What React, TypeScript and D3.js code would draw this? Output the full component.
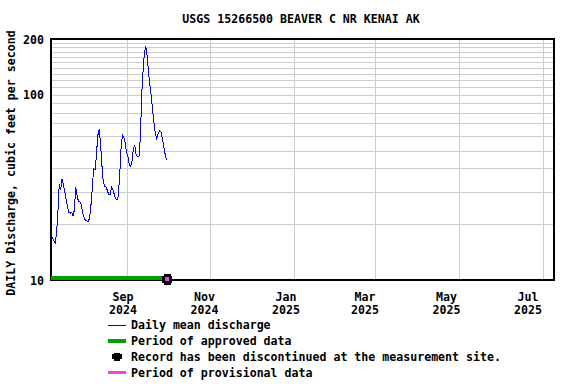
import React from "react";
import * as d3 from "d3";

// daily mean discharge, cfs, Jul 8 2024 .. Sep 30 2024
const startDay = "2024-07-08";
const discharge = [
  17.1, 17, 16.3, 15.8, 17.9, 22.9, 33, 30.5, 35, 33,
  30, 27, 25, 23.2, 22.9, 23.2, 22.2, 23.9, 31.7, 28.5,
  26.5, 26.5, 25.5, 23, 21.8, 21, 20.9, 20.7, 21.5, 24.9,
  30.7, 40, 39.3, 46.3, 60, 65, 55, 42, 34, 32,
  31.8, 30.5, 28.8, 28.8, 31.8, 31, 29, 27.6, 27, 28.5,
  37, 52, 60.9, 59, 55, 48.5, 46, 41.8, 41, 44,
  51.5, 53, 47, 46.3, 46.3, 58.4, 100, 135, 170, 182,
  162, 132, 112, 98, 82, 70, 61, 57.6, 62, 64,
  63, 58.4, 53, 48, 44.5,
];

const approvedPeriod = ["2024-07-08", "2024-09-30"];
const discontinuedOn = "2024-10-01";

const monthTicks = ["2024-09-01", "2024-11-01", "2025-01-01", "2025-03-01", "2025-05-01", "2025-07-01"];
const monthLabels = [["Sep", "2024"], ["Nov", "2024"], ["Jan", "2025"], ["Mar", "2025"], ["May", "2025"], ["Jul", "2025"]];
const yLabels = [10, 100, 200];
const yGrid = [20, 30, 40, 50, 60, 70, 80, 90, 100, 110, 120, 130, 140, 150, 160, 170, 180, 190];

const legendItems = [
  "Daily mean discharge",
  "Period of approved data",
  "Record has been discontinued at the measurement site.",
  "Period of provisional data",
];

const W = 576, H = 384;
const left = 51, right = 554, top = 39, bottom = 280;
const font = "'DejaVu Sans Mono', monospace";

export default function App() {
  const parse = d3.utcParse("%Y-%m-%d");
  const domain = [parse("2024-07-08")!, parse("2025-07-09")!];
  const x = d3.scaleUtc().domain(domain).range([left, right]);
  // tick labels on the original sit a bit left of the grid lines
  const xLab = d3.scaleUtc().domain(domain).range([49.5, 538.7]);
  const y = d3.scaleLog().domain([10, 200]).range([bottom, top]);

  const t0 = parse(startDay)!;
  const pts: [Date, number][] = discharge.map((v, i) => [d3.utcDay.offset(t0, i), v]);
  const line = d3.line<[Date, number]>().x(d => x(d[0])).y(d => y(d[1]));

  const gx = x(parse(discontinuedOn)!) - 0.5;

  return (
    <div style={{ position: "absolute", left: 0, top: 0 }}>
      <svg width={W} height={H} style={{ display: "block", background: "#fff" }}>
        <text x={301} y={23} textAnchor="middle" fontFamily={font} fontWeight="bold" fontSize={11.6}>
          USGS 15266500 BEAVER C NR KENAI AK
        </text>

        <g shapeRendering="crispEdges" stroke="#cccccc" strokeWidth={1}>
          {yGrid.map(v => (
            <line key={v} x1={left} x2={right} y1={Math.round(y(v)) + 0.5} y2={Math.round(y(v)) + 0.5} />
          ))}
          {monthTicks.map(m => {
            const px = Math.round(x(parse(m)!)) + 0.5;
            return <line key={m} x1={px} x2={px} y1={top} y2={bottom} />;
          })}
        </g>

        <path d={line(pts)!} fill="none" stroke="#0000ff" strokeWidth={1} shapeRendering="crispEdges" />

        <rect x={left} y={top} width={right - left} height={bottom - top} fill="none" stroke="#000" strokeWidth={1.5} shapeRendering="crispEdges" />

        <rect
          x={x(parse(approvedPeriod[0])!)}
          y={bottom - 4}
          width={x(parse(approvedPeriod[1])!) - x(parse(approvedPeriod[0])!) + 2}
          height={4}
          fill="#00a000"
        />
        <g shapeRendering="crispEdges">
          <rect x={gx - 5} y={bottom - 4} width={10} height={7} fill="#000" />
          <rect x={gx - 3.5} y={bottom - 6} width={7} height={11} fill="#000" />
          <rect x={gx - 2} y={bottom - 3} width={4} height={4} fill="#ee44dd" />
        </g>

        {yLabels.map(v => (
          <text key={v} x={44} y={y(v) + 4.5} textAnchor="end" fontFamily={font} fontWeight="bold" fontSize={11.6}>
            {v}
          </text>
        ))}

        {monthTicks.map((m, i) => (
          <text key={m} x={xLab(parse(m)!)} textAnchor="middle" fontFamily={font} fontWeight="bold" fontSize={11.6}>
            <tspan x={xLab(parse(m)!)} y={301}>{monthLabels[i][0]}</tspan>
            <tspan x={xLab(parse(m)!)} y={314}>{monthLabels[i][1]}</tspan>
          </text>
        ))}

        <text
          transform={`translate(15,163) rotate(-90)`}
          textAnchor="middle"
          fontFamily={font}
          fontWeight="bold"
          fontSize={11.6}
        >
          DAILY Discharge, cubic feet per second
        </text>

        <g>
          <line x1={108} x2={126} y1={325.5} y2={325.5} stroke="#0000ff" strokeWidth={1} />
          <rect x={108} y={339} width={18} height={4} fill="#00a000" />
          <g shapeRendering="crispEdges">
            <rect x={112} y={354} width={10} height={5} fill="#000" />
            <rect x={114} y={352.5} width={6} height={8.5} fill="#000" />
          </g>
          <rect x={108} y={371} width={18} height={3} fill="#ee44dd" />
          {legendItems.map((t, i) => (
            <text key={t} x={131} y={[329, 345, 361, 377][i]} fontFamily={font} fontWeight="bold" fontSize={11.6}>
              {t}
            </text>
          ))}
        </g>
      </svg>
    </div>
  );
}
